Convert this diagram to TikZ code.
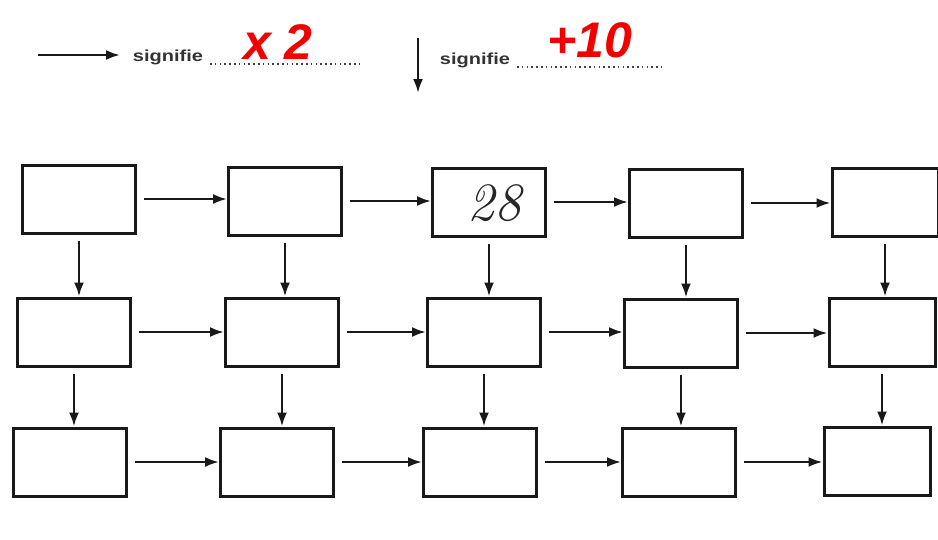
\documentclass[tikz,border=0pt]{standalone}
\usepackage{fontspec}
\setmainfont{Liberation Sans}
\usetikzlibrary{arrows.meta}
\begin{document}
\begin{tikzpicture}[x=1pt,y=-1pt,
  cell/.style={draw=black!90, line width=3pt, minimum width=113pt, minimum height=68pt, inner sep=0pt, fill=white},
  lastcell/.style={cell, minimum width=106pt},
  arr/.style={line width=2.4pt, black!90, -{Latex[length=14pt,width=10pt]}},
  lbl/.style={font=\fontsize{16}{18}\selectfont\bfseries, text=black!80, inner sep=0pt},
  dots/.style={line width=1.8pt, dash pattern=on 1.6pt off 3.2pt, black!75},
  answer/.style={font=\fontsize{50}{50}\selectfont\bfseries\itshape, text=red!95!black, inner sep=0pt}
]
\useasboundingbox (0,0) rectangle (938,539);
\fill[white] (0,0) rectangle (938,539);

% legend
\coordinate (la1) at (38,55);
\coordinate (la2) at (120,55);
\draw[arr] (la1) -- (la2);
\node[lbl] (s1) at (168,57) {\scalebox{1.25}[1]{signifie}};
\coordinate (d1a) at (210,64);
\coordinate (d1b) at (362,64);
\draw[dots] (d1a) -- (d1b);
\node[answer] (ans1) at (278,42) {x 2};

\coordinate (lb1) at (418,38);
\coordinate (lb2) at (418,93);
\draw[arr] (lb1) -- (lb2);
\node[lbl] (s2) at (475,60) {\scalebox{1.25}[1]{signifie}};
\coordinate (d2a) at (517,67);
\coordinate (d2b) at (662,67);
\draw[dots] (d2a) -- (d2b);
\node[answer] (ans2) at (590,40) {+10};

% grid of boxes
\node[cell] (a1) at (79,199) {};
\node[cell] (a2) at (285,201) {};
\node[cell] (a3) at (489,202) {};
\node[cell] (a4) at (686,203) {};
\node[lastcell] (a5) at (885,202) {};

\node[cell] (b1) at (74,332) {};
\node[cell] (b2) at (282,332) {};
\node[cell] (b3) at (484,332) {};
\node[cell] (b4) at (681,333) {};
\node[lastcell] (b5) at (882,332) {};

\node[cell] (c1) at (70,462) {};
\node[cell] (c2) at (277,462) {};
\node[cell] (c3) at (480,462) {};
\node[cell] (c4) at (679,462) {};
\node[lastcell] (c5) at (877,461) {};

\node[inner sep=0pt, text=black!85] (t28) at (494,203) {\fontspec{Latin Modern Roman}\fontsize{54}{54}\selectfont\itshape 28};

% horizontal arrows
\foreach \r in {a,b,c}{
  \foreach \i/\j in {1/2,2/3,3/4,4/5}{
    \draw[arr] ([xshift=7pt]\r\i.east) -- (\r\i.east -| \r\j.west);
  }
}
% vertical arrows
\foreach \i in {1,...,5}{
  \draw[arr] ([yshift=-6pt]a\i.south) -- (a\i.south |- b\i.north);
  \draw[arr] ([yshift=-6pt]b\i.south) -- (b\i.south |- c\i.north);
}
\end{tikzpicture}
\end{document}
